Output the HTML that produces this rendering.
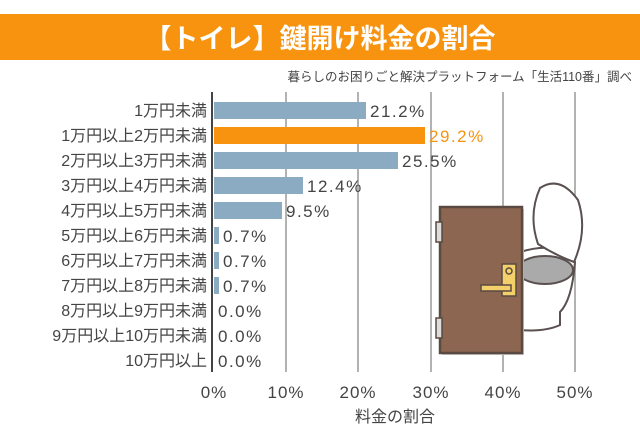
<!DOCTYPE html>
<html><head><meta charset="utf-8"><style>
body{margin:0;background:#fff;}
svg text{font-family:"Liberation Sans","Noto Sans CJK JP",sans-serif;}
</style></head><body>
<svg width="640" height="440" xmlns="http://www.w3.org/2000/svg">
<rect width="640" height="440" fill="#fff"/>
<rect x="0" y="14" width="640" height="46" fill="#f7930f"/>
<text x="320" y="48" text-anchor="middle" font-size="27" font-weight="bold" fill="#fff">【トイレ】鍵開け料金の割合</text>
<text x="632" y="81" text-anchor="end" font-size="12.5" fill="#444">暮らしのお困りごと解決プラットフォーム「生活110番」調べ</text>
<g stroke="#999" stroke-width="1.5">
<line x1="286" y1="92" x2="286" y2="372"/><line x1="358" y1="92" x2="358" y2="372"/>
<line x1="431" y1="92" x2="431" y2="372"/><line x1="503" y1="92" x2="503" y2="372"/>
<line x1="575" y1="92" x2="575" y2="372"/>
</g>
<g stroke="#5a5050" stroke-width="2">
<path d="M520 252 Q560 240 575 262 Q572 300 560 312 L560 325 Q545 332 520 330 Z" fill="#fff"/>
<ellipse cx="545" cy="270" rx="28" ry="14" fill="#aaa"/>
<path d="M540 188 Q560 175 578 200 Q588 230 574 262 Q555 255 538 244 Q528 215 540 188Z" fill="#fff"/>
</g>
<rect x="442" y="209" width="82" height="146" fill="#ccc"/>
<rect x="440" y="207" width="82" height="146" fill="#8c6650" stroke="#5a4a42" stroke-width="2.5"/>
<rect x="436" y="222" width="6" height="20" fill="#ddd" stroke="#5a4a42" stroke-width="1.5"/>
<rect x="436" y="318" width="6" height="20" fill="#ddd" stroke="#5a4a42" stroke-width="1.5"/>
<rect x="502" y="264" width="14" height="32" fill="#f4d06a" stroke="#5a4a42" stroke-width="1.5"/>
<rect x="481" y="285" width="30" height="6" fill="#f4d06a" stroke="#5a4a42" stroke-width="1.5"/>
<circle cx="509" cy="271" r="3" fill="#f4d06a" stroke="#5a4a42" stroke-width="1.5"/>
<g font-size="16" fill="#444" text-anchor="end">
<text x="207" y="116">1万円未満</text>
<text x="207" y="141">1万円以上2万円未満</text>
<text x="207" y="166">2万円以上3万円未満</text>
<text x="207" y="191">3万円以上4万円未満</text>
<text x="207" y="216">4万円以上5万円未満</text>
<text x="207" y="241">5万円以上6万円未満</text>
<text x="207" y="266">6万円以上7万円未満</text>
<text x="207" y="291">7万円以上8万円未満</text>
<text x="207" y="316">8万円以上9万円未満</text>
<text x="207" y="341">9万円以上10万円未満</text>
<text x="207" y="366">10万円以上</text>
</g>
<g fill="#8aabc2">
<rect x="214" y="102" width="152" height="17"/>
<rect x="214" y="152" width="184" height="17"/>
<rect x="214" y="177" width="89" height="17"/>
<rect x="214" y="202" width="68" height="17"/>
<rect x="214" y="227" width="5" height="17"/>
<rect x="214" y="252" width="5" height="17"/>
<rect x="214" y="277" width="5" height="17"/>
</g>
<rect x="214" y="127" width="211" height="17" fill="#f7930f"/>
<g font-size="17" fill="#444" letter-spacing="1.5">
<text x="370" y="117">21.2%</text>
<text x="429" y="142" fill="#f7930f">29.2%</text>
<text x="402" y="167">25.5%</text>
<text x="307" y="192">12.4%</text>
<text x="286" y="217">9.5%</text>
<text x="223" y="242">0.7%</text>
<text x="223" y="267">0.7%</text>
<text x="223" y="292">0.7%</text>
<text x="218" y="317">0.0%</text>
<text x="218" y="342">0.0%</text>
<text x="218" y="367">0.0%</text>
</g>
<line x1="212" y1="92" x2="212" y2="372" stroke="#444" stroke-width="2"/>
<g font-size="17" fill="#444" text-anchor="middle" letter-spacing="1">
<text x="214" y="398">0%</text><text x="286" y="398">10%</text><text x="358" y="398">20%</text>
<text x="431" y="398">30%</text><text x="503" y="398">40%</text><text x="575" y="398">50%</text>
</g>
<text x="395" y="422" text-anchor="middle" font-size="16" fill="#444">料金の割合</text>
</svg>
</body></html>
